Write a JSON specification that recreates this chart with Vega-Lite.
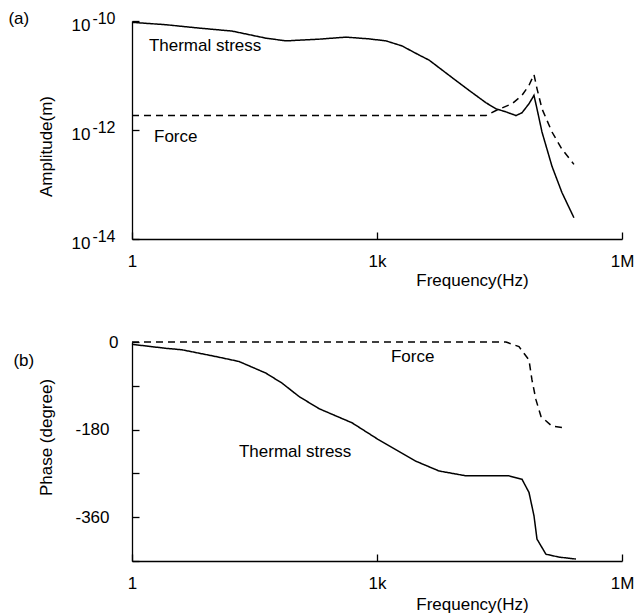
{
 "$schema": "https://vega.github.io/schema/vega-lite/v6.json",
 "padding": {"left": 8, "top": 10, "right": 0, "bottom": 2},
 "config": {
  "font": "Liberation Sans",
  "view": {"stroke": null},
  "axis": {"grid": false, "domainColor": "black", "domainWidth": 1.3, "tickColor": "black", "tickWidth": 1.3, "tickSize": -7, "labelColor": "black", "labelFontSize": 17, "labelFont": "Liberation Sans", "titleColor": "black", "titleFontSize": 17, "titleFontWeight": "normal", "titleFont": "Liberation Sans"},
  "title": {"fontSize": 17, "fontWeight": "normal", "font": "Liberation Sans", "color": "black"},
  "text": {"font": "Liberation Sans", "fontSize": 17, "color": "black"}
 },
 "datasets": {
  "amp": [
   {"series": "Thermal stress", "freq": 1, "value": 9.46e-11},
   {"series": "Thermal stress", "freq": 2.61, "value": 8.54e-11},
   {"series": "Thermal stress", "freq": 6.61, "value": 7.42e-11},
   {"series": "Thermal stress", "freq": 16.8, "value": 6.53e-11},
   {"series": "Thermal stress", "freq": 43.7, "value": 4.84e-11},
   {"series": "Thermal stress", "freq": 76.9, "value": 4.32e-11},
   {"series": "Thermal stress", "freq": 195, "value": 4.64e-11},
   {"series": "Thermal stress", "freq": 417, "value": 5.06e-11},
   {"series": "Thermal stress", "freq": 798, "value": 4.7e-11},
   {"series": "Thermal stress", "freq": 1288, "value": 4.32e-11},
   {"series": "Thermal stress", "freq": 2023, "value": 3.49e-11},
   {"series": "Thermal stress", "freq": 3266, "value": 2.38e-11},
   {"series": "Thermal stress", "freq": 4335, "value": 1.92e-11},
   {"series": "Thermal stress", "freq": 8285, "value": 9.18e-12},
   {"series": "Thermal stress", "freq": 13370, "value": 5.35e-12},
   {"series": "Thermal stress", "freq": 21620, "value": 3.16e-12},
   {"series": "Thermal stress", "freq": 28640, "value": 2.45e-12},
   {"series": "Thermal stress", "freq": 37950, "value": 2.15e-12},
   {"series": "Thermal stress", "freq": 50330, "value": 1.84e-12},
   {"series": "Thermal stress", "freq": 59600, "value": 2.07e-12},
   {"series": "Thermal stress", "freq": 72600, "value": 3.03e-12},
   {"series": "Thermal stress", "freq": 83600, "value": 4.32e-12},
   {"series": "Thermal stress", "freq": 91000, "value": 2.45e-12},
   {"series": "Thermal stress", "freq": 104800, "value": 9.18e-13},
   {"series": "Thermal stress", "freq": 139000, "value": 2.15e-13},
   {"series": "Thermal stress", "freq": 184000, "value": 7.11e-14},
   {"series": "Thermal stress", "freq": 258000, "value": 2.45e-14},
   {"series": "Force", "freq": 1, "value": 1.84e-12},
   {"series": "Force", "freq": 21600, "value": 1.84e-12},
   {"series": "Force", "freq": 28640, "value": 2.28e-12},
   {"series": "Force", "freq": 45000, "value": 3.03e-12},
   {"series": "Force", "freq": 59600, "value": 4.32e-12},
   {"series": "Force", "freq": 72600, "value": 6.6e-12},
   {"series": "Force", "freq": 83600, "value": 1.04e-11},
   {"series": "Force", "freq": 91000, "value": 5.75e-12},
   {"series": "Force", "freq": 104800, "value": 2.45e-12},
   {"series": "Force", "freq": 139000, "value": 9.18e-13},
   {"series": "Force", "freq": 184000, "value": 4.45e-13},
   {"series": "Force", "freq": 258000, "value": 2.34e-13}
  ],
  "amplabels": [
   {"label": "Thermal stress", "freq": 1.61, "value": 3.5e-11},
   {"label": "Force", "freq": 1.86, "value": 7.4e-13}
  ],
  "phase": [
   {"series": "Thermal stress", "freq": 1, "value": -4.8},
   {"series": "Thermal stress", "freq": 2.61, "value": -13},
   {"series": "Thermal stress", "freq": 4.1, "value": -16},
   {"series": "Thermal stress", "freq": 10.7, "value": -30},
   {"series": "Thermal stress", "freq": 20.4, "value": -40},
   {"series": "Thermal stress", "freq": 43.7, "value": -64},
   {"series": "Thermal stress", "freq": 68.7, "value": -84.5},
   {"series": "Thermal stress", "freq": 111, "value": -112},
   {"series": "Thermal stress", "freq": 195, "value": -137},
   {"series": "Thermal stress", "freq": 494, "value": -166},
   {"series": "Thermal stress", "freq": 1028, "value": -200},
   {"series": "Thermal stress", "freq": 3000, "value": -245},
   {"series": "Thermal stress", "freq": 5740, "value": -265},
   {"series": "Thermal stress", "freq": 12300, "value": -275},
   {"series": "Thermal stress", "freq": 41300, "value": -275},
   {"series": "Thermal stress", "freq": 59600, "value": -282},
   {"series": "Thermal stress", "freq": 72600, "value": -309},
   {"series": "Thermal stress", "freq": 83600, "value": -357},
   {"series": "Thermal stress", "freq": 91000, "value": -405},
   {"series": "Thermal stress", "freq": 117000, "value": -436},
   {"series": "Thermal stress", "freq": 169000, "value": -442},
   {"series": "Thermal stress", "freq": 273000, "value": -446},
   {"series": "Force", "freq": 1, "value": 0},
   {"series": "Force", "freq": 38000, "value": 0},
   {"series": "Force", "freq": 54800, "value": -9.5},
   {"series": "Force", "freq": 72600, "value": -37},
   {"series": "Force", "freq": 79000, "value": -78},
   {"series": "Force", "freq": 88500, "value": -119},
   {"series": "Force", "freq": 101900, "value": -153},
   {"series": "Force", "freq": 139000, "value": -173},
   {"series": "Force", "freq": 206000, "value": -176.5}
  ],
  "phaselabels": [
   {"label": "Force", "freq": 1480, "value": -31},
   {"label": "Thermal stress", "freq": 20.4, "value": -227}
  ]
 },
 "vconcat": [
  {
   "width": 490,
   "height": 218,
   "title": {"text": "(a)", "orient": "left", "anchor": "end", "angle": 0, "align": "right", "baseline": "middle", "frame": "group", "offset": 9, "dx": 22, "dy": -2},
   "resolve": {"axis": {"y": "independent"}},
   "layer": [
    {
     "data": {"name": "amp"},
     "mark": {"type": "line", "color": "black", "strokeWidth": 1.5},
     "encoding": {
      "x": {"field": "freq", "type": "quantitative", "scale": {"type": "log", "domain": [1, 1000000]},
            "axis": {"values": [1, 1000, 1000000], "labelExpr": "datum.value < 10 ? '1' : datum.value < 10000 ? '1k' : '1M'", "labelPadding": 21, "labelFlush": false, "title": "Frequency(Hz)", "titleX": 340, "titleY": 41, "titleBaseline": "middle", "titleAlign": "center"}},
      "y": {"field": "value", "type": "quantitative", "scale": {"type": "log", "domain": [1e-14, 1e-10]},
            "axis": {"orient": "left", "values": [1e-14, 1e-12, 1e-10], "labelExpr": "'10'", "labelPadding": 49, "labelOffset": 4.5, "title": "Amplitude(m)", "titleX": -86, "titleY": 125, "titleAngle": -90, "titleBaseline": "middle", "titleAlign": "center"}},
      "strokeDash": {"field": "series", "type": "nominal", "scale": {"domain": ["Thermal stress", "Force"], "range": [[1, 0], [7, 5]]}, "legend": null}
     }
    },
    {
     "data": {"name": "amplabels"},
     "mark": {"type": "text", "align": "left", "baseline": "middle"},
     "encoding": {
      "x": {"field": "freq", "type": "quantitative"},
      "y": {"field": "value", "type": "quantitative",
            "axis": {"orient": "left", "values": [1e-14, 1e-12, 1e-10], "labelExpr": "datum.value > 5e-11 ? '-10' : datum.value > 5e-13 ? '-12' : '-14'", "labelFontSize": 16, "labelPadding": 17, "labelOffset": -2.5, "domain": false, "ticks": false, "title": null}},
      "text": {"field": "label"}
     }
    }
   ]
  },
  {
   "width": 490,
   "height": 219,
   "title": {"text": "(b)", "orient": "left", "anchor": "end", "angle": 0, "align": "right", "baseline": "middle", "frame": "group", "offset": 9, "dx": 27, "dy": 19},
   "layer": [
    {
     "data": {"name": "phase"},
     "mark": {"type": "line", "color": "black", "strokeWidth": 1.5},
     "encoding": {
      "x": {"field": "freq", "type": "quantitative", "scale": {"type": "log", "domain": [1, 1000000]},
            "axis": {"values": [1, 1000, 1000000], "labelExpr": "datum.value < 10 ? '1' : datum.value < 10000 ? '1k' : '1M'", "labelPadding": 21, "labelFlush": false, "title": "Frequency(Hz)", "titleX": 340, "titleY": 43, "titleBaseline": "middle", "titleAlign": "center"}},
      "y": {"field": "value", "type": "quantitative", "scale": {"domain": [-450, 0], "nice": false, "zero": false},
            "axis": {"values": [0, -90, -180, -270, -360, -450], "labelExpr": "datum.value % 180 == 0 ? '' + datum.value : ''", "labelPadding": {"condition": {"test": "datum.value == 0", "value": 21}, "value": 30}, "title": "Phase (degree)", "titleX": -86, "titleY": 95, "titleAngle": -90, "titleBaseline": "middle", "titleAlign": "center"}},
      "strokeDash": {"field": "series", "type": "nominal", "scale": {"domain": ["Thermal stress", "Force"], "range": [[1, 0], [6, 5]]}, "legend": null}
     }
    },
    {
     "data": {"name": "phaselabels"},
     "mark": {"type": "text", "align": "left", "baseline": "middle"},
     "encoding": {
      "x": {"field": "freq", "type": "quantitative"},
      "y": {"field": "value", "type": "quantitative"},
      "text": {"field": "label"}
     }
    }
   ]
  }
 ],
 "spacing": 45
}
